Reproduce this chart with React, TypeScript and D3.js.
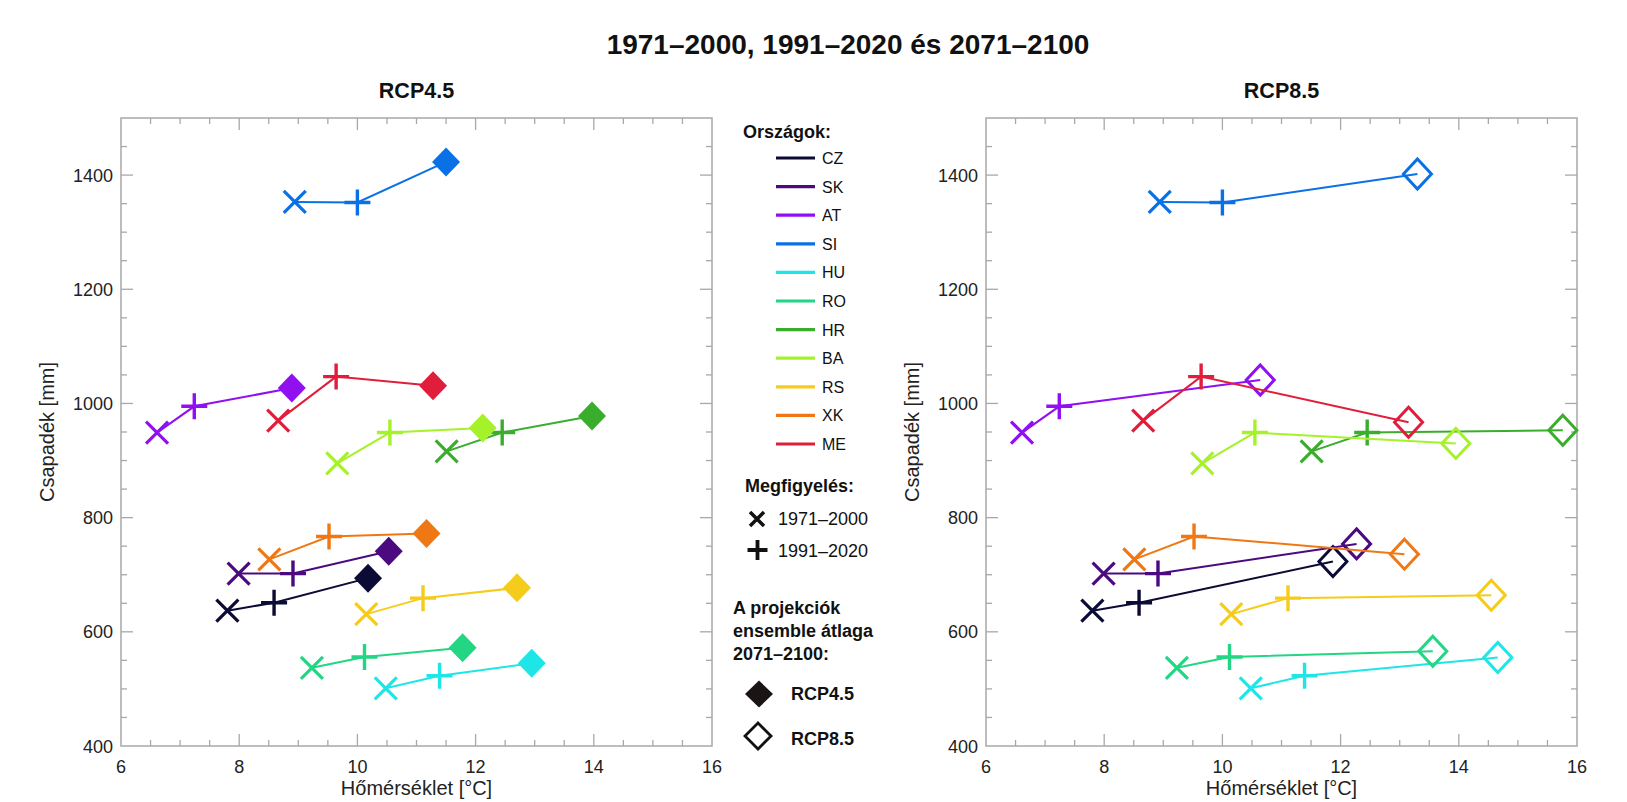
import React from "react";
import * as d3 from "d3";

const countries = ["CZ", "SK", "AT", "SI", "HU", "RO", "HR", "BA", "RS", "XK", "ME"];
const colors = ["#0b0b35", "#4b0a80", "#9010f0", "#0a70e6", "#1ee6e6", "#22d684", "#3aae2c", "#a6f22a", "#f5cc1a", "#f07814", "#e01e3c"];

// observations 1971–2000
const temp1971 = [7.8, 7.99, 6.61, 8.94, 10.48, 9.23, 11.51, 9.66, 10.15, 8.51, 8.66];
const prec1971 = [637, 702, 949, 1353, 501, 537, 916, 895, 631, 727, 970];
// observations 1991–2020
const temp1991 = [8.59, 8.91, 7.24, 10.0, 11.39, 10.12, 12.45, 10.55, 11.11, 9.52, 9.64];
const prec1991 = [651, 702, 995, 1352, 523, 556, 949, 949, 659, 767, 1047];
// ensemble mean 2071–2100
const tempRcp45 = [10.18, 10.53, 8.89, 11.5, 12.95, 11.78, 13.97, 12.12, 12.7, 11.17, 11.28];
const precRcp45 = [694, 741, 1027, 1423, 545, 572, 978, 957, 677, 772, 1031];
const tempRcp85 = [11.87, 12.27, 10.64, 13.3, 14.66, 13.56, 15.76, 13.95, 14.55, 13.08, 13.15];
const precRcp85 = [723, 754, 1041, 1402, 555, 566, 953, 930, 664, 736, 967];

const xTicks = [6, 8, 10, 12, 14, 16];
const yTicks = [400, 600, 800, 1000, 1200, 1400];

const FONT = "'Liberation Sans', Arial, Helvetica, sans-serif";
const AXIS = "#a8a8a8";

function cross(x: number, y: number, r: number) {
  return `M${x - r},${y - r}L${x + r},${y + r}M${x - r},${y + r}L${x + r},${y - r}`;
}
function plus(x: number, y: number, r: number) {
  return `M${x - r},${y}L${x + r},${y}M${x},${y - r}L${x},${y + r}`;
}
function diamond(x: number, y: number, rx: number, ry: number) {
  return `M${x},${y - ry}L${x + rx},${y}L${x},${y + ry}L${x - rx},${y}Z`;
}

function Panel({ left, right, top, bottom, tp, pp, filled, title }: any) {
  const x = d3.scaleLinear().domain([6, 16]).range([left, right]);
  const y = d3.scaleLinear().domain([400, 1500]).range([bottom, top]);
  const line = d3.line<[number, number]>().x((d) => x(d[0])).y((d) => y(d[1]));
  const xMinor = d3.range(6.5, 16, 0.5);
  const yMinor = d3.range(450, 1500, 50);
  const ticks: JSX.Element[] = [];
  xMinor.forEach((t, i) => {
    const major = Math.abs(t % 2) < 1e-9;
    const L = major ? 12 : 6;
    ticks.push(<line key={"xb" + i} x1={x(t)} x2={x(t)} y1={bottom} y2={bottom - L} />);
    ticks.push(<line key={"xt" + i} x1={x(t)} x2={x(t)} y1={top} y2={top + L} />);
  });
  yMinor.forEach((t, i) => {
    const major = t % 200 === 0;
    const L = major ? 12 : 6;
    ticks.push(<line key={"yl" + i} x1={left} x2={left + L} y1={y(t)} y2={y(t)} />);
    ticks.push(<line key={"yr" + i} x1={right} x2={right - L} y1={y(t)} y2={y(t)} />);
  });
  const cx = (left + right) / 2;
  return (
    <g>
      <text x={cx} y={98} textAnchor="middle" fontFamily={FONT} fontWeight="bold" fontSize={21.5} fill="#111">
        {title}
      </text>
      <rect x={left} y={top} width={right - left} height={bottom - top} fill="none" stroke={AXIS} strokeWidth={1.5} />
      <g stroke={AXIS} strokeWidth={1.3}>{ticks}</g>
      <g fontFamily={FONT} fontSize={18} fill="#222">
        {xTicks.map((t) => (
          <text key={"xl" + t} x={x(t)} y={773} textAnchor="middle">{t}</text>
        ))}
        {yTicks.map((t) => (
          <text key={"yl" + t} x={left - 8} y={y(t) + 6.5} textAnchor="end">{t}</text>
        ))}
      </g>
      <text x={cx} y={795} textAnchor="middle" fontFamily={FONT} fontSize={20} fill="#222">
        Hőmérséklet [°C]
      </text>
      <text
        transform={`translate(${left - 67},${(top + bottom) / 2}) rotate(-90)`}
        textAnchor="middle"
        fontFamily={FONT}
        fontSize={20}
        fill="#222"
      >
        Csapadék [mm]
      </text>
      {countries.map((c, i) => {
        const pts: [number, number][] = [
          [temp1971[i], prec1971[i]],
          [temp1991[i], prec1991[i]],
          [tp[i], pp[i]],
        ];
        return (
          <g key={c}>
            <path d={line(pts) || ""} fill="none" stroke={colors[i]} strokeWidth={2} />
            <path d={cross(x(pts[0][0]), y(pts[0][1]), 11)} stroke={colors[i]} strokeWidth={3.2} fill="none" />
            <path d={plus(x(pts[1][0]), y(pts[1][1]), 13)} stroke={colors[i]} strokeWidth={3.4} fill="none" />
            {filled ? (
              <path d={diamond(x(pts[2][0]), y(pts[2][1]), 14, 14.5)} fill={colors[i]} stroke="none" />
            ) : (
              <path d={diamond(x(pts[2][0]), y(pts[2][1]), 14, 15)} fill="none" stroke={colors[i]} strokeWidth={3} />
            )}
          </g>
        );
      })}
    </g>
  );
}

function Legend() {
  const rowY = (i: number) => 158 + i * 28.6;
  return (
    <g fontFamily={FONT} fill="#111">
      <text x={743} y={138} fontWeight="bold" fontSize={18}>Országok:</text>
      {countries.map((c, i) => (
        <g key={c}>
          <line x1={776} x2={815} y1={rowY(i)} y2={rowY(i)} stroke={colors[i]} strokeWidth={3.2} />
          <text x={822} y={rowY(i) + 6} fontSize={16}>{c}</text>
        </g>
      ))}
      <text x={745} y={492} fontWeight="bold" fontSize={18}>Megfigyelés:</text>
      <path d={cross(757, 519, 7)} stroke="#111" strokeWidth={3.5} fill="none" />
      <text x={778} y={525} fontSize={18}>1971–2000</text>
      <path d={plus(757.5, 550, 10)} stroke="#111" strokeWidth={3.8} fill="none" />
      <text x={778} y={557} fontSize={18}>1991–2020</text>
      <text x={733} y={614} fontWeight="bold" fontSize={18}>A projekciók</text>
      <text x={733} y={637} fontWeight="bold" fontSize={18}>ensemble átlaga</text>
      <text x={733} y={660} fontWeight="bold" fontSize={18}>2071–2100:</text>
      <path d={diamond(759, 694, 14, 13.5)} fill="#1a1414" />
      <text x={791} y={700} fontWeight="bold" fontSize={18}>RCP4.5</text>
      <path d={diamond(758, 736, 13, 13)} fill="none" stroke="#111" strokeWidth={2.8} />
      <text x={791} y={745} fontWeight="bold" fontSize={18}>RCP8.5</text>
    </g>
  );
}

export default function App() {
  return (
    <svg
      width={1627}
      height={802}
      style={{ position: "absolute", left: 0, top: 0, background: "#fff" }}
    >
      <rect width={1627} height={802} fill="#fff" />
      <text x={848} y={54} textAnchor="middle" fontFamily={FONT} fontWeight="bold" fontSize={28} fill="#111">
        1971–2000, 1991–2020 és 2071–2100
      </text>
      <Panel left={121} right={712} top={118} bottom={746} tp={tempRcp45} pp={precRcp45} filled={true} title="RCP4.5" />
      <Panel left={986} right={1577} top={118} bottom={746} tp={tempRcp85} pp={precRcp85} filled={false} title="RCP8.5" />
      <Legend />
    </svg>
  );
}
